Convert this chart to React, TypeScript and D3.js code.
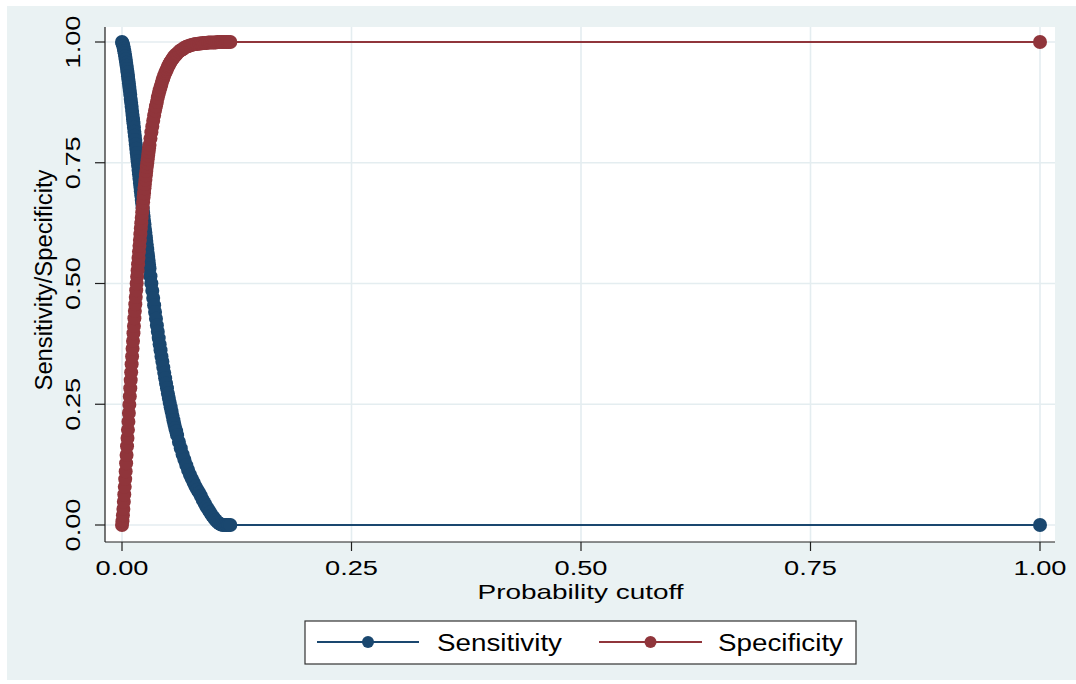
import React from 'react';
import * as d3 from 'd3';

// Probability cutoffs at which sensitivity / specificity were evaluated
const CUTOFFS = [
  0, 0.0005, 0.001, 0.0015, 0.002, 0.0025, 0.003, 0.0035, 0.004, 0.0045,
  0.005, 0.0055, 0.006, 0.0065, 0.007, 0.0075, 0.008, 0.0085, 0.009, 0.0095,
  0.01, 0.0105, 0.011, 0.0115, 0.012, 0.0125, 0.013, 0.0135, 0.014, 0.0145,
  0.015, 0.0155, 0.016, 0.0165, 0.017, 0.0175, 0.018, 0.0185, 0.019, 0.0195,
  0.02, 0.0205, 0.021, 0.0215, 0.022, 0.0225, 0.023, 0.0235, 0.024, 0.0245,
  0.025, 0.0255, 0.026, 0.0265, 0.027, 0.0275, 0.028, 0.0285, 0.029, 0.0295,
  0.03, 0.031, 0.032, 0.033, 0.034, 0.035, 0.036, 0.037, 0.038, 0.039,
  0.04, 0.041, 0.042, 0.043, 0.044, 0.045, 0.046, 0.047, 0.048, 0.049,
  0.05, 0.051, 0.052, 0.053, 0.054, 0.055, 0.056, 0.057, 0.058, 0.059,
  0.06, 0.062, 0.064, 0.066, 0.068, 0.07, 0.072, 0.074, 0.076, 0.078,
  0.08, 0.082, 0.084, 0.086, 0.088, 0.09, 0.092, 0.094, 0.096, 0.098,
  0.1, 0.102, 0.104, 0.106, 0.108, 0.11, 0.112, 0.114, 0.116, 0.118,
  1.0,
];

const SENSITIVITY = [
  1, 0.998, 0.995, 0.991, 0.986, 0.981, 0.976, 0.97, 0.964, 0.957,
  0.951, 0.944, 0.937, 0.929, 0.922, 0.914, 0.907, 0.899, 0.891, 0.882,
  0.874, 0.866, 0.857, 0.849, 0.84, 0.832, 0.823, 0.814, 0.806, 0.797,
  0.788, 0.779, 0.77, 0.762, 0.753, 0.744, 0.735, 0.726, 0.717, 0.708,
  0.7, 0.691, 0.682, 0.673, 0.665, 0.656, 0.647, 0.639, 0.63, 0.622,
  0.613, 0.605, 0.596, 0.588, 0.58, 0.571, 0.563, 0.555, 0.547, 0.539,
  0.531, 0.515, 0.5, 0.485, 0.47, 0.455, 0.441, 0.427, 0.413, 0.4,
  0.387, 0.374, 0.362, 0.349, 0.338, 0.326, 0.315, 0.304, 0.293, 0.283,
  0.272, 0.263, 0.253, 0.244, 0.235, 0.226, 0.217, 0.209, 0.201, 0.194,
  0.186, 0.172, 0.159, 0.146, 0.135, 0.124, 0.114, 0.104, 0.096, 0.088,
  0.08, 0.073, 0.067, 0.06, 0.052, 0.045, 0.038, 0.032, 0.026, 0.02,
  0.015, 0.01, 0.006, 0.003, 0.001, 0, 0, 0, 0, 0,
  0,
];

const SPECIFICITY = [
  0, 0.008, 0.02, 0.033, 0.048, 0.063, 0.079, 0.095, 0.111, 0.128,
  0.145, 0.163, 0.18, 0.197, 0.214, 0.232, 0.249, 0.266, 0.283, 0.3,
  0.316, 0.333, 0.349, 0.365, 0.381, 0.397, 0.412, 0.428, 0.443, 0.457,
  0.472, 0.486, 0.5, 0.514, 0.527, 0.54, 0.553, 0.566, 0.578, 0.59,
  0.602, 0.614, 0.625, 0.636, 0.647, 0.657, 0.668, 0.678, 0.687, 0.697,
  0.706, 0.715, 0.724, 0.733, 0.741, 0.749, 0.757, 0.765, 0.772, 0.78,
  0.787, 0.8, 0.813, 0.825, 0.837, 0.848, 0.858, 0.867, 0.876, 0.885,
  0.893, 0.9, 0.907, 0.913, 0.92, 0.925, 0.931, 0.936, 0.94, 0.944,
  0.949, 0.952, 0.956, 0.959, 0.962, 0.965, 0.968, 0.97, 0.972, 0.974,
  0.976, 0.98, 0.983, 0.985, 0.988, 0.99, 0.991, 0.993, 0.994, 0.995,
  0.996, 0.996, 0.997, 0.997, 0.998, 0.998, 0.998, 0.999, 0.999, 0.999,
  0.999, 0.999, 1, 1, 1, 1, 1, 1, 1, 1,
  1,
];

const SERIES_NAMES = ['Sensitivity', 'Specificity'];
const X_TICKS = [0, 0.25, 0.5, 0.75, 1];
const Y_TICKS = [0, 0.25, 0.5, 0.75, 1];
const X_TITLE = 'Probability cutoff';
const Y_TITLE = 'Sensitivity/Specificity';

const FONT = "'Liberation Sans', Arial, Helvetica, sans-serif";
const BG = '#eaf2f3';
const GRID = '#e4edf0';
const COLORS = ['#1a476f', '#90353b'];

export default function App() {
  const W = 1076;
  const H = 684;
  const plot = { left: 105, top: 27, right: 1055, bottom: 542 };

  const x = d3.scaleLinear().domain([0, 1]).range([122, 1040]);
  const y = d3.scaleLinear().domain([0, 1]).range([525, 42]);
  const fmt = d3.format('.2f');

  const series = [
    { name: SERIES_NAMES[0], values: SENSITIVITY, color: COLORS[0] },
    { name: SERIES_NAMES[1], values: SPECIFICITY, color: COLORS[1] },
  ];

  const lineGen = d3
    .line<number>()
    .x((_, i) => x(CUTOFFS[i]))
    .y((d) => y(d));

  const legendItems = [
    { lineX0: 317, lineX1: 419, textX: 437 },
    { lineX0: 599, lineX1: 702, textX: 718 },
  ];
  const legendY = 642;

  return (
    <svg
      width={W}
      height={H}
      viewBox={`0 0 ${W} ${H}`}
      style={{ position: 'absolute', left: 0, top: 0, display: 'block' }}
      fontFamily={FONT}
    >
      <rect x={0} y={0} width={W} height={H} fill="#ffffff" />
      <rect x={7} y={6} width={W - 7} height={674} fill={BG} />
      <rect
        x={plot.left}
        y={plot.top}
        width={plot.right - plot.left}
        height={plot.bottom - plot.top}
        fill="#ffffff"
      />

      {/* grid */}
      {Y_TICKS.map((t) => (
        <line
          key={`gy${t}`}
          x1={plot.left}
          x2={plot.right}
          y1={y(t)}
          y2={y(t)}
          stroke={GRID}
          strokeWidth={1.6}
        />
      ))}
      {X_TICKS.map((t) => (
        <line
          key={`gx${t}`}
          x1={x(t)}
          x2={x(t)}
          y1={plot.top}
          y2={plot.bottom}
          stroke={GRID}
          strokeWidth={1.6}
        />
      ))}

      {/* axes */}
      <line x1={plot.left} x2={plot.left} y1={plot.top} y2={plot.bottom} stroke="#1e1e1e" strokeWidth={1.2} />
      <line x1={plot.left} x2={plot.right} y1={plot.bottom} y2={plot.bottom} stroke="#1e1e1e" strokeWidth={1.2} />

      {Y_TICKS.map((t) => (
        <g key={`ty${t}`}>
          <line x1={plot.left - 10} x2={plot.left} y1={y(t)} y2={y(t)} stroke="#1e1e1e" strokeWidth={1.2} />
          <text
            transform={`translate(80,${y(t)}) rotate(-90)`}
            textAnchor="middle"
            fontSize={20}
            textLength={53}
            lengthAdjust="spacingAndGlyphs"
            fill="#000"
          >
            {fmt(t)}
          </text>
        </g>
      ))}
      {X_TICKS.map((t) => (
        <g key={`tx${t}`}>
          <line x1={x(t)} x2={x(t)} y1={plot.bottom} y2={plot.bottom + 9} stroke="#1e1e1e" strokeWidth={1.2} />
          <text
            x={x(t)}
            y={575}
            textAnchor="middle"
            fontSize={20}
            textLength={53}
            lengthAdjust="spacingAndGlyphs"
            fill="#000"
          >
            {fmt(t)}
          </text>
        </g>
      ))}

      {/* axis titles */}
      <text
        x={580.5}
        y={599}
        textAnchor="middle"
        fontSize={21}
        textLength={206}
        lengthAdjust="spacingAndGlyphs"
        fill="#000"
      >
        {X_TITLE}
      </text>
      <text
        transform={`translate(52,280) rotate(-90)`}
        textAnchor="middle"
        fontSize={23}
        textLength={221}
        lengthAdjust="spacingAndGlyphs"
        fill="#000"
      >
        {Y_TITLE}
      </text>

      {/* series */}
      {series.map((s) => (
        <g key={s.name}>
          <path d={lineGen(s.values) || ''} fill="none" stroke={s.color} strokeWidth={2} />
          {s.values.map((v, i) => (
            <circle key={i} cx={x(CUTOFFS[i])} cy={y(v)} r={7} fill={s.color} />
          ))}
        </g>
      ))}

      {/* legend */}
      <rect x={305} y={621} width={551} height={43} fill="#ffffff" stroke="#333" strokeWidth={1.2} />
      {series.map((s, i) => {
        const it = legendItems[i];
        return (
          <g key={`lg${s.name}`}>
            <line x1={it.lineX0} x2={it.lineX1} y1={legendY} y2={legendY} stroke={s.color} strokeWidth={2.2} />
            <circle cx={(it.lineX0 + it.lineX1) / 2} cy={legendY} r={6} fill={s.color} />
            <text
              x={it.textX}
              y={651}
              fontSize={23}
              textLength={125}
              lengthAdjust="spacingAndGlyphs"
              fill="#000"
            >
              {s.name}
            </text>
          </g>
        );
      })}
    </svg>
  );
}
